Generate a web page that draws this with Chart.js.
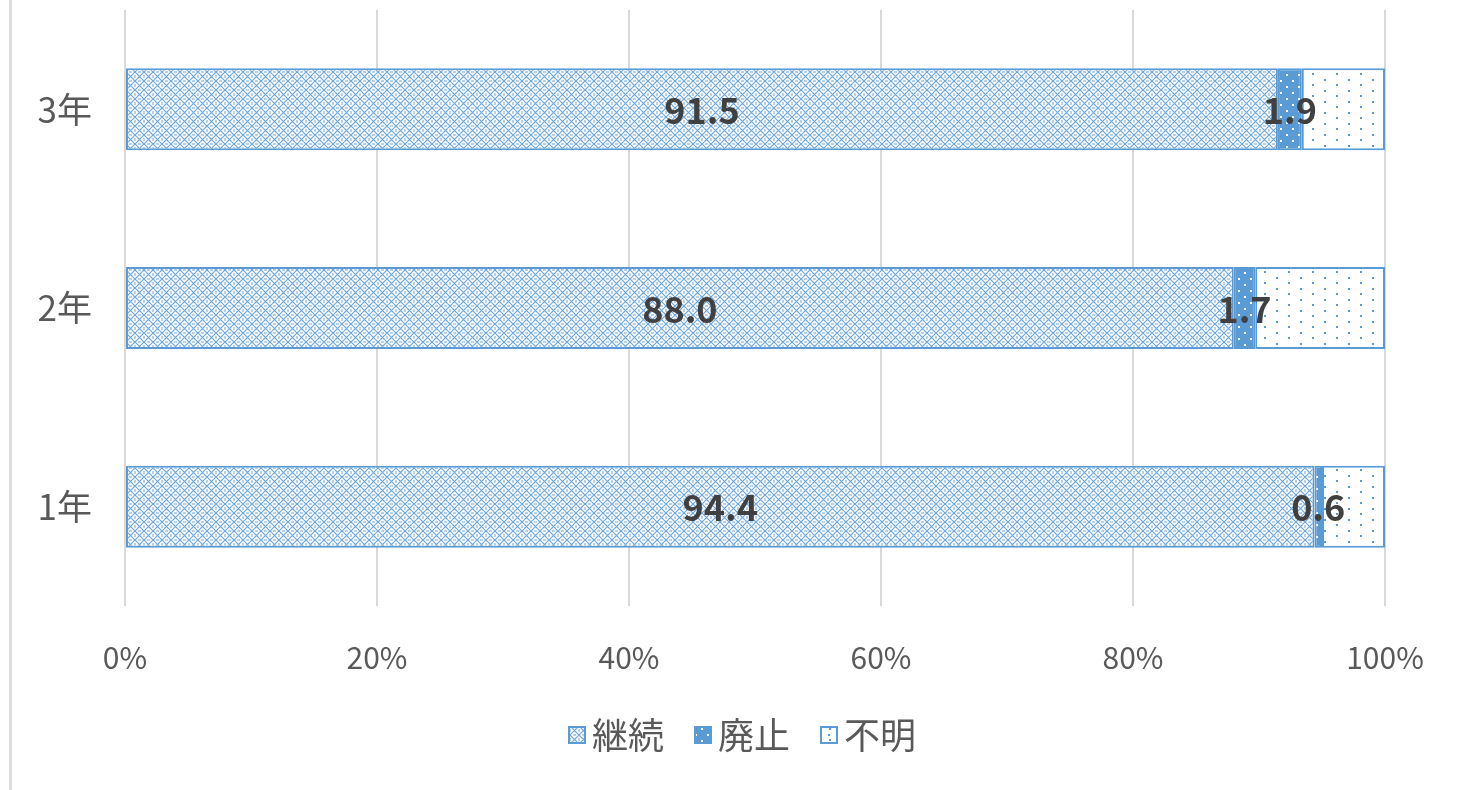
<!DOCTYPE html>
<html>
<head>
<meta charset="utf-8">
<script src="https://cdn.jsdelivr.net/npm/chart.js@4"></script>
<style>
  html, body { margin: 0; padding: 0; background: #ffffff; }
  #wrap { position: relative; width: 1459px; height: 790px; overflow: hidden; }
  #edge { position: absolute; left: 9px; top: 0; width: 3px; height: 790px; background: #dedede; }
  canvas { position: absolute; left: 0; top: 0; }
</style>
</head>
<body>
<div id="wrap">
  <div id="edge"></div>
  <canvas id="c" width="1459" height="790"></canvas>
</div>
<script>
// ---- data ----
const categories = ['3年', '2年', '1年'];
const seriesNames = ['継続', '廃止', '不明'];
const keizoku = [91.5, 88.0, 94.4];
const haishi = [1.9, 1.7, 0.6];
const fumei = [6.6, 10.3, 5.0];
const xTicks = [0, 20, 40, 60, 80, 100];

const BLUE = '#5B9BD5';
const FONT = '"Noto Sans CJK JP", "Noto Sans", sans-serif';

function tileCanvas(w, h, draw) {
  const c = document.createElement('canvas');
  c.width = w; c.height = h;
  draw(c.getContext('2d'), w, h);
  return c;
}
function toPattern(c) {
  return c.getContext('2d').createPattern(c, 'repeat');
}

// lattice / diamond pattern for 継続
const tileKeizoku = tileCanvas(9, 9, (g, w, h) => {
  g.fillStyle = '#ffffff';
  g.fillRect(0, 0, w, h);
  g.strokeStyle = 'rgba(91,155,213,0.9)';
  g.lineWidth = 1.2;
  g.beginPath();
  g.moveTo(0, 0); g.lineTo(w, h);
  g.moveTo(w, 0); g.lineTo(0, h);
  g.stroke();
  g.fillStyle = 'rgba(91,155,213,0.45)';
  g.fillRect(3, 0, 3, 1);
  g.fillRect(0, 3, 1, 3);
  g.fillRect(8, 3, 1, 3);
  g.fillRect(3, 8, 3, 1);
});

// solid blue with white dots for 廃止
const tileHaishi = tileCanvas(12, 12, (g, w, h) => {
  g.fillStyle = BLUE;
  g.fillRect(0, 0, w, h);
  g.fillStyle = '#ffffff';
  g.fillRect(2, 2, 2, 2);
  g.fillRect(8, 8, 2, 2);
});

// white with sparse staggered blue dots for 不明
const tileFumei = tileCanvas(24, 11, (g, w, h) => {
  g.fillStyle = '#ffffff';
  g.fillRect(0, 0, w, h);
  g.fillStyle = BLUE;
  g.fillRect(4, 2, 2, 2);
  g.fillRect(16, 7, 2, 2);
});

const patterns = [toPattern(tileKeizoku), toPattern(tileHaishi), toPattern(tileFumei)];

// legend icons: 18px patterned box placed close to its text
function legendIcon(pat, dotted) {
  return tileCanvas(80, 18, (g) => {
    g.fillStyle = pat;
    g.fillRect(43, 0, 18, 18);
    if (dotted) {
      g.fillStyle = BLUE;
      g.fillRect(51, 8, 2, 2);
    }
    g.strokeStyle = BLUE;
    g.lineWidth = 2;
    g.strokeRect(44, 1, 16, 16);
  });
}
const icons = [legendIcon(patterns[0]), legendIcon(patterns[1]), legendIcon(patterns[2], true)];

const labelPlugin = {
  id: 'barLabels',
  afterDatasetsDraw(chart) {
    const ctx = chart.ctx;
    ctx.save();
    ctx.font = 'bold 36px ' + FONT;
    ctx.fillStyle = '#404040';
    ctx.textAlign = 'center';
    ctx.textBaseline = 'middle';
    [0, 1].forEach(di => {
      const meta = chart.getDatasetMeta(di);
      const ds = chart.data.datasets[di];
      meta.data.forEach((bar, i) => {
        const p = bar.getProps(['x', 'y', 'base'], true);
        const cx = (p.x + p.base) / 2;
        ctx.fillText(ds.data[i].toFixed(1), cx, p.y + 1);
      });
    });
    ctx.restore();
  }
};

// centre the legend under the plot like the original (shift its box start)
const legendShift = {
  id: 'legendShift',
  afterLayout(chart) {
    if (chart.legend) chart.legend.left = 87;
  }
};

new Chart(document.getElementById('c'), {
  type: 'bar',
  data: {
    labels: categories,
    datasets: [
      { label: seriesNames[0], data: keizoku, backgroundColor: patterns[0] },
      { label: seriesNames[1], data: haishi, backgroundColor: patterns[1] },
      { label: seriesNames[2], data: fumei, backgroundColor: patterns[2] }
    ]
  },
  options: {
    indexAxis: 'y',
    responsive: false,
    animation: false,
    devicePixelRatio: 1,
    layout: { padding: { left: 0, right: 74, top: 10, bottom: 27 } },
    datasets: {
      bar: {
        borderColor: BLUE,
        borderWidth: 2,
        borderSkipped: false,
        categoryPercentage: 1,
        barPercentage: 0.413
      }
    },
    scales: {
      x: {
        stacked: true,
        min: 0,
        max: 100,
        afterBuildTicks(scale) { scale.ticks = xTicks.map(v => ({ value: v })); },
        afterFit(scale) {
          scale.height = 93;
          scale.paddingLeft = 0;
          scale.paddingRight = 0;
        },
        grid: { color: '#d9d9d9', lineWidth: 2, drawTicks: false },
        border: { display: false },
        ticks: {
          padding: 34,
          color: '#595959',
          font: { size: 30, family: FONT },
          callback: v => v + '%'
        }
      },
      y: {
        stacked: true,
        afterFit(scale) {
          scale.width = 125;
          scale.paddingTop = 0;
          scale.paddingBottom = 0;
        },
        grid: { display: false, drawTicks: false },
        border: { display: false },
        ticks: {
          padding: 33,
          color: '#595959',
          font: { size: 35, family: FONT }
        }
      }
    },
    plugins: {
      legend: {
        position: 'bottom',
        labels: {
          usePointStyle: true,
          pointStyleWidth: 18,
          boxWidth: 18,
          boxHeight: 18,
          padding: 18,
          color: '#595959',
          font: { size: 36, family: FONT },
          generateLabels(chart) {
            const items = Chart.defaults.plugins.legend.labels.generateLabels(chart);
            items.forEach((it, i) => { it.pointStyle = icons[i]; });
            return items;
          }
        }
      },
      tooltip: { enabled: false }
    }
  },
  plugins: [labelPlugin, legendShift]
});
</script>
</body>
</html>
